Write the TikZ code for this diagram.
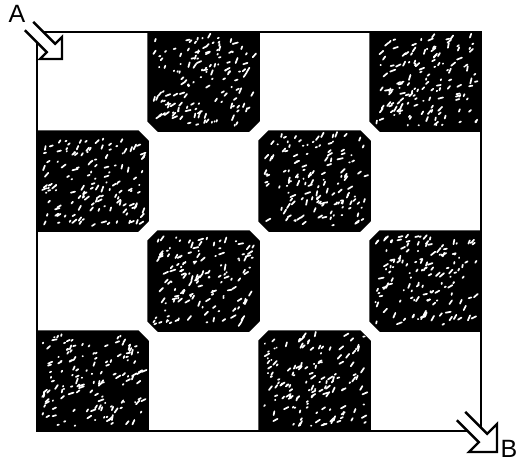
\documentclass[tikz,border=0pt]{standalone}
\usepackage{fontspec}
\setmainfont{Liberation Sans}
\newcommand\blacksq[8]{%
  \path[cellfill] (#1+#5,#2) -- (#3-#6,#2) -- (#3,#2+#6) -- (#3,#4-#7) -- (#3-#7,#4) -- (#1+#8,#4) -- (#1,#4-#8) -- (#1,#2+#5) -- cycle;
  \begin{scope}
    \clip (#1+#5,#2) -- (#3-#6,#2) -- (#3,#2+#6) -- (#3,#4-#7) -- (#3-#7,#4) -- (#1+#8,#4) -- (#1,#4-#8) -- (#1,#2+#5) -- cycle;
    \foreach \i in {1,...,140}{%
      \pgfmathsetmacro\px{#1+5+(#3-#1-10)*rnd}%
      \pgfmathsetmacro\py{#2+5+(#4-#2-10)*rnd}%
      \pgfmathsetmacro\an{-45+70*(rnd-0.5)}%
      \pgfmathsetmacro\ln{0.5+5*rnd}%
      \draw[speck] (\px,\py) -- ++(\an:\ln);
    }
  \end{scope}}
\begin{document}
\begin{tikzpicture}[x=1pt,y=-1pt,
  cellfill/.style={fill=black,draw=black,line width=1.5pt,line join=round},
  speck/.style={draw=white,line width=1.7pt,line cap=round},
  frame/.style={draw=black,line width=2.8pt,line join=miter},
  hollowarrow/.style={draw=black,fill=white,line width=2.4pt,line join=miter},
  lbl/.style={font=\fontsize{25}{25}\selectfont,inner sep=0pt}]
\useasboundingbox (0,0) rectangle (519,469);
\pgfmathsetseed{7}
% black squares with chamfered inner corners
\blacksq{148}{32}{259}{131}{0}{0}{10}{10}
\blacksq{370}{32}{481}{131}{0}{0}{0}{10}
\blacksq{37}{131}{148}{231}{0}{10}{10}{0}
\blacksq{259}{131}{370}{231}{10}{10}{10}{10}
\blacksq{148}{231}{259}{331}{10}{10}{10}{10}
\blacksq{370}{231}{481}{331}{10}{0}{0}{10}
\blacksq{37}{331}{148}{431}{0}{10}{0}{0}
\blacksq{259}{331}{370}{431}{10}{10}{0}{0}
% frame
\draw[frame] (37,32) rectangle (481,431);
% arrow at A
\path[hollowarrow] (33.2,21.8) -- (55.2,43.8) -- (62,37) -- (62,59) -- (40,59) -- (46.8,52.2) -- (24.8,30.2);
% arrow at B
\path[hollowarrow] (465.2,411.8) -- (487.2,433.8) -- (497,424) -- (497,452) -- (469,452) -- (478.8,442.2) -- (456.8,420.2);
% labels
\node[lbl] (A) at (17,14) {A};
\node[lbl] (B) at (509,449) {B};
\end{tikzpicture}
\end{document}
